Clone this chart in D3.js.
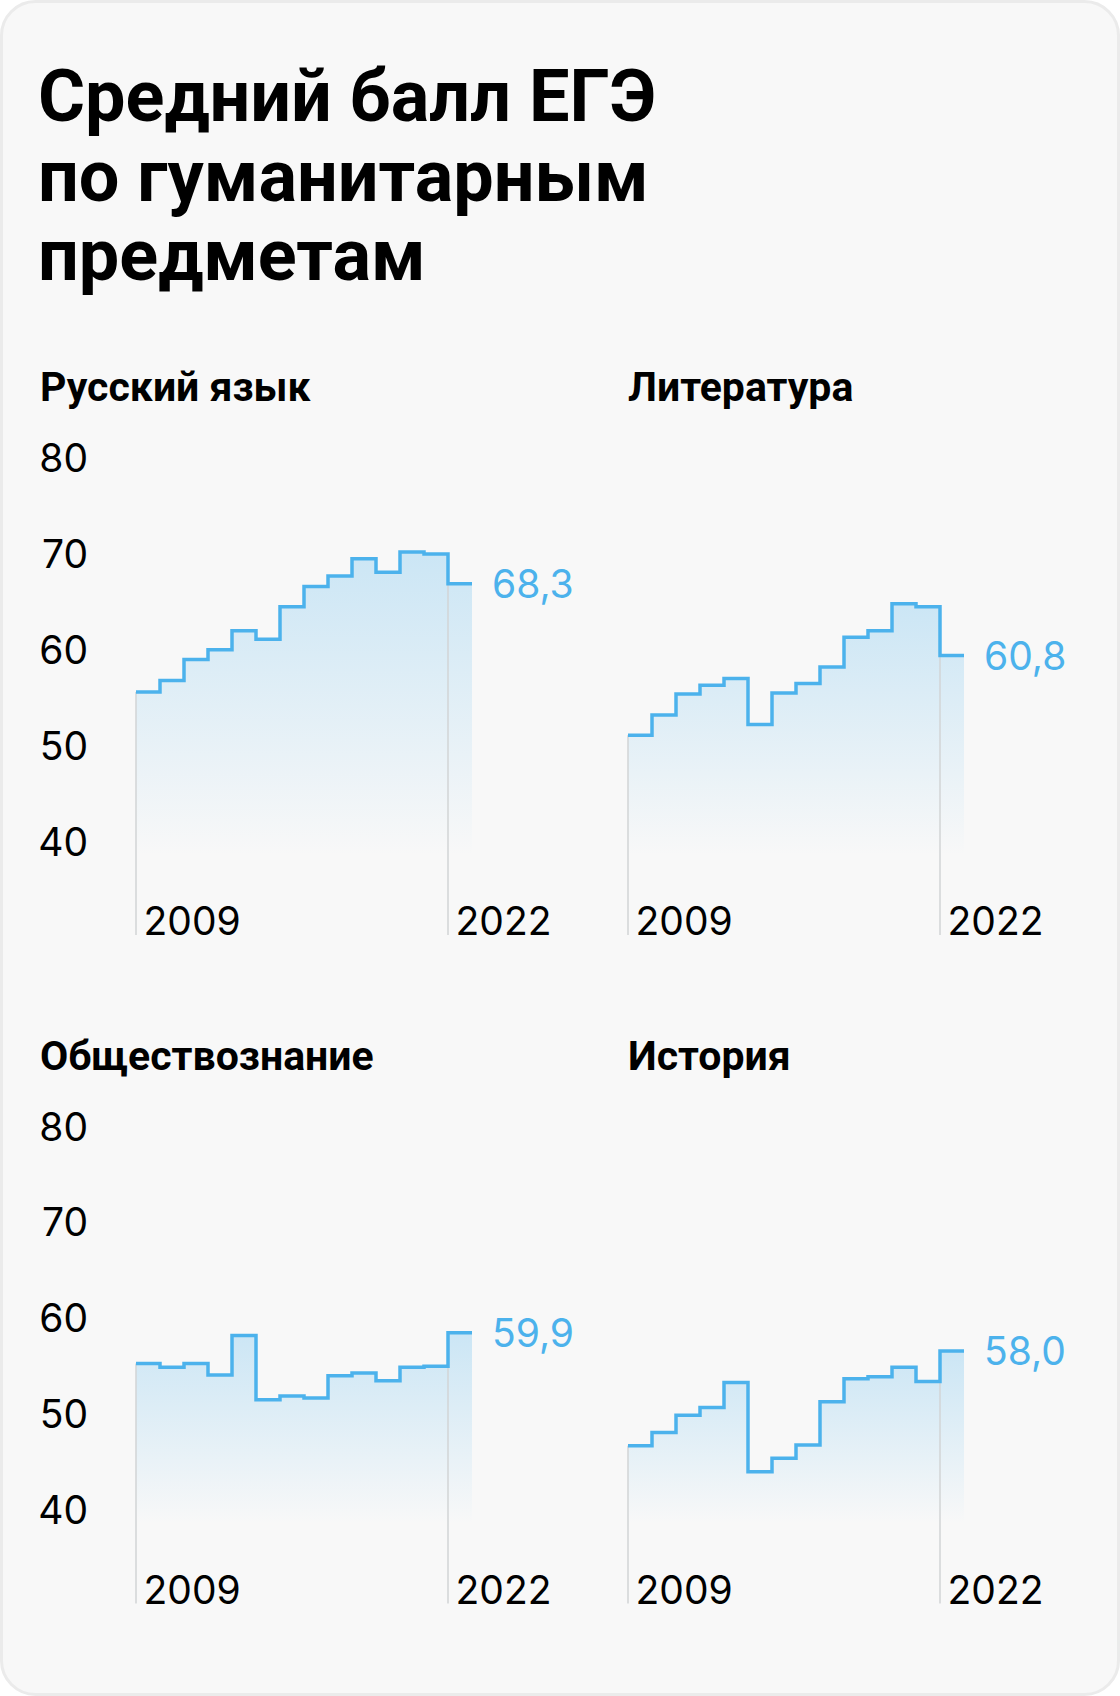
<!DOCTYPE html>
<html><head><meta charset="utf-8">
<script src="https://cdn.jsdelivr.net/npm/d3@7"></script>
<style>
html,body{margin:0;padding:0;background:#fff;}
svg{display:block;}
</style></head><body>
<svg id="chart" width="1120" height="1696"></svg>
<script>
// ---- data ----
const titleLines = ["Средний балл ЕГЭ", "по гуманитарным", "предметам"];
const subjects = ["Русский язык", "Литература", "Обществознание", "История"];
const years = [2009, 2010, 2011, 2012, 2013, 2014, 2015, 2016, 2017, 2018, 2019, 2020, 2021, 2022];
const russian    = [57.0, 58.2, 60.4, 61.4, 63.4, 62.5, 65.9, 68.0, 69.1, 70.9, 69.5, 71.6, 71.4, 68.3];
const literature = [52.5, 54.6, 56.8, 57.7, 58.4, 53.6, 56.9, 57.9, 59.6, 62.7, 63.4, 66.2, 65.9, 60.8];
const social     = [56.7, 56.3, 56.7, 55.5, 59.6, 52.9, 53.3, 53.1, 55.4, 55.7, 54.9, 56.3, 56.4, 59.9];
const history    = [48.1, 49.5, 51.3, 52.1, 54.7, 45.4, 46.8, 48.2, 52.7, 55.1, 55.3, 56.3, 54.8, 58.0];
const yTicks = [40, 50, 60, 70, 80];
const yearTicks = [2009, 2022];
const series = [russian, literature, social, history];

// ---- layout ----
const W = 1120, H = 1696;
const blue = "#4cb2ec";
const colX = [136, 628];
const rowTop = [471.5, 1140];      // y of value 80
const rowOffset = rowTop[1] - rowTop[0];
const plotW = 336;
const numFont = "Inter, Roboto, sans-serif";
const numSize = 39;
const fmt = v => d3.format(".1f")(v).replace(".", ",");

const svg = d3.select("#chart");
const defs = svg.append("defs");
const grad = defs.append("linearGradient").attr("id", "fillGrad")
  .attr("x1", 0).attr("y1", 0).attr("x2", 0).attr("y2", 1);
grad.append("stop").attr("offset", 0).attr("stop-color", blue).attr("stop-opacity", 0.26);
grad.append("stop").attr("offset", 1).attr("stop-color", blue).attr("stop-opacity", 0);

// card
svg.append("rect").attr("x", 1.5).attr("y", 1.5).attr("width", W - 3).attr("height", H - 3)
  .attr("rx", 34).attr("fill", "#f8f8f8").attr("stroke", "#ebebeb").attr("stroke-width", 3);

// title
svg.append("g").selectAll("text").data(titleLines).join("text")
  .attr("x", 38).attr("y", (d, i) => 121 + i * 79.5)
  .attr("font-family", "Roboto, 'Liberation Sans', sans-serif")
  .attr("font-weight", 700).attr("font-size", 72).attr("fill", "#000")
  .text(d => d);

series.forEach((vals, i) => {
  const col = i % 2, row = Math.floor(i / 2);
  const x0 = colX[col];
  const oy = row * rowOffset;
  const x = d3.scaleLinear().domain([2009, 2023]).range([x0, x0 + plotW]);
  const y = d3.scaleLinear().domain([40, 80]).range([855 + oy, 471.5 + oy]);
  const bottom = 935 + oy;
  const g = svg.append("g");

  // heading
  g.append("text").attr("x", col === 0 ? 40 : 628).attr("y", 401 + oy)
    .attr("font-family", "Roboto, 'Liberation Sans', sans-serif")
    .attr("font-weight", 700).attr("font-size", 41).attr("fill", "#000")
    .text(subjects[i]);

  const pts = years.map((yr, k) => [yr, vals[k]]);
  pts.push([2023, vals[vals.length - 1]]);

  // area
  const area = d3.area().curve(d3.curveStepAfter)
    .x(d => x(d[0])).y0(y(40)).y1(d => y(d[1]));
  g.append("path").datum(pts).attr("d", area).attr("fill", "url(#fillGrad)");

  // grey verticals at first and last year
  const firstLast = [[2009, vals[0]], [2022, vals[vals.length - 1]]];
  g.selectAll("line.v").data(firstLast).join("line").attr("class", "v")
    .attr("x1", d => x(d[0])).attr("x2", d => x(d[0]))
    .attr("y1", d => y(d[1])).attr("y2", bottom)
    .attr("stroke", "#d2d4d6").attr("stroke-width", 1.5);

  // step line
  const line = d3.line().curve(d3.curveStepAfter).x(d => x(d[0])).y(d => y(d[1]));
  g.append("path").datum(pts).attr("d", line).attr("fill", "none")
    .attr("stroke", blue).attr("stroke-width", 3.5);

  // y axis labels (left column only)
  if (col === 0) {
    const ax = g.append("g").attr("transform", `translate(88,0)`)
      .call(d3.axisLeft(y).tickValues(yTicks).tickSize(0).tickPadding(0));
    ax.select(".domain").remove();
    ax.selectAll("text").attr("dy", 0)
      .attr("font-family", numFont).attr("font-size", numSize).attr("fill", "#000");
  }

  // x axis labels
  const xa = g.append("g").attr("transform", `translate(0,${bottom})`)
    .call(d3.axisBottom(x).tickValues(yearTicks).tickFormat(d3.format("d")).tickSize(0).tickPadding(0));
  xa.select(".domain").remove();
  xa.selectAll("text").attr("y", 0).attr("dy", 0).attr("dx", 7).attr("text-anchor", "start")
    .attr("font-family", numFont).attr("font-size", numSize).attr("fill", "#000");

  // last value label
  g.append("text").attr("x", x(2023) + 20).attr("y", y(vals[vals.length - 1]))
    .attr("dy", "0.36em")
    .attr("font-family", numFont).attr("font-size", numSize).attr("fill", blue)
    .text(fmt(vals[vals.length - 1]));
});
</script>
</body></html>
